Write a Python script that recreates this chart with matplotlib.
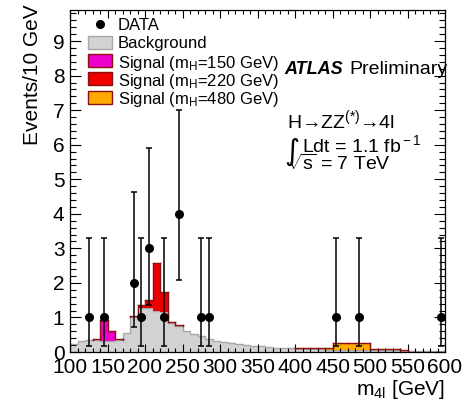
import numpy as np
import matplotlib.pyplot as plt
from matplotlib.patches import Rectangle
from matplotlib.ticker import MultipleLocator

plt.rcParams['font.family'] = ['Liberation Sans', 'DejaVu Sans']
plt.rcParams['mathtext.fontset'] = 'custom'
plt.rcParams['mathtext.rm'] = 'Liberation Sans'
plt.rcParams['mathtext.it'] = 'Liberation Sans:italic'

# 10 GeV bins from 100 to 600 GeV
edges = np.arange(100, 610, 10)

background = [0.22, 0.33, 0.35, 0.35, 0.33, 0.33, 0.35, 0.55, 1.00, 1.27,
              1.27, 1.20, 1.15, 0.85, 0.75, 0.62, 0.52, 0.45, 0.38, 0.33,
              0.29, 0.25, 0.22, 0.20, 0.18, 0.16, 0.15, 0.13, 0.12, 0.11,
              0.09, 0.09, 0.08, 0.08, 0.07, 0.07, 0.07, 0.06, 0.06, 0.06,
              0.05, 0.05, 0.05, 0.05, 0.04, 0.04, 0.04, 0.04, 0.03, 0.03]

sig150 = [0, 0, 0, 0.03, 0.60, 0.27, 0.02] + [0] * 43
sig220 = [0] * 8 + [0.03, 0.10, 0.23, 1.38, 0.59, 0.03, 0.02] + [0] * 35
sig480 = [0] * 30 + [0.04] * 5 + [0.20] * 5 + [0.03] * 5 + [0] * 5

# data points and Poisson error intervals
data_x = [125, 145, 185, 195, 205, 225, 245, 275, 285, 455, 485, 595]
data_y = [1, 1, 2, 1, 3, 1, 4, 1, 1, 1, 1, 1]
err_low = [0.17, 0.17, 0.71, 0.17, 1.37, 0.17, 2.08, 0.17, 0.17, 0.17, 0.17, 0.17]
err_high = [3.30, 3.30, 4.64, 3.30, 5.90, 3.30, 7.00, 3.30, 3.30, 3.30, 3.30, 3.30]

legend_labels = ['DATA', 'Background',
                 r'Signal (m$_{\rm H}$=150 GeV)',
                 r'Signal (m$_{\rm H}$=220 GeV)',
                 r'Signal (m$_{\rm H}$=480 GeV)']

bkg_fill = '#d2d2d2'
bkg_edge = '#a8a8a8'
sig_edge = '#8c1010'
sig_colors = ['#ee00cc', '#ee0000', '#ffaa00']

fig = plt.figure(figsize=(4.71, 4.0), dpi=100)
ax = fig.add_axes([70 / 471, 1 - 352 / 400, 375 / 471, 342 / 400])

bkg = np.array(background)
ax.stairs(bkg, edges, fill=True, color=bkg_fill, lw=0)
ax.stairs(bkg, edges, color=bkg_edge, lw=1)
for sig, col in zip([sig150, sig220, sig480], sig_colors):
    sig = np.array(sig, dtype=float)
    top = bkg + sig
    mask = sig > 0
    ax.stairs(np.where(mask, top, bkg), edges, baseline=bkg, fill=True,
              color=col, lw=0)
    # outline only where there is signal
    for i in np.nonzero(mask)[0]:
        ax.plot([edges[i], edges[i + 1]], [top[i], top[i]], color=sig_edge, lw=1)
        if i == 0 or not mask[i - 1]:
            ax.plot([edges[i], edges[i]], [bkg[i], top[i]], color=sig_edge, lw=1)
        else:
            ax.plot([edges[i], edges[i]], [top[i - 1], top[i]], color=sig_edge, lw=1)
        if i == len(mask) - 1 or not mask[i + 1]:
            ax.plot([edges[i + 1], edges[i + 1]], [top[i], bkg[i]], color=sig_edge, lw=1)

dy = np.array(data_y, dtype=float)
yerr = [dy - np.array(err_low), np.array(err_high) - dy]
ax.errorbar(data_x, dy, yerr=yerr, fmt='o', color='black', ms=5.5,
            elinewidth=1.1, capsize=2, capthick=1.1, zorder=5, clip_on=False)

ax.set_xlim(100, 600)
ax.set_ylim(0, 9.9)
ax.xaxis.set_major_locator(MultipleLocator(50))
ax.xaxis.set_minor_locator(MultipleLocator(10))
ax.yaxis.set_major_locator(MultipleLocator(1))
ax.yaxis.set_minor_locator(MultipleLocator(0.2))
ax.tick_params(which='both', direction='in', top=True, right=True, width=0.8)
ax.tick_params(axis='x', which='major', length=6, labelsize=15, pad=4)
ax.tick_params(axis='x', which='minor', length=3)
ax.tick_params(axis='y', which='major', length=8, labelsize=15, pad=4)
ax.tick_params(axis='y', which='minor', length=4)
for s in ax.spines.values():
    s.set_linewidth(0.9)

ax.set_xlabel(r'm$_{\rm 4l}$ [GeV]', fontsize=15, loc='right', labelpad=1)
ax.set_ylabel('Events/10 GeV', fontsize=15, loc='top')
ax.yaxis.set_label_coords(-0.075, 1.015)

# legend, drawn row by row in axes coordinates
row_h = 18.3 / 342
y0 = 1 - 14 / 342
bx, bw, bh = 18 / 375, 24 / 375, 13 / 342
for i, lab in enumerate(legend_labels):
    yc = y0 - i * row_h
    if i == 0:
        ax.plot([bx + bw / 2], [yc], 'o', color='black', ms=5.5,
                transform=ax.transAxes)
    else:
        fc = bkg_fill if i == 1 else sig_colors[i - 2]
        ec = bkg_edge if i == 1 else sig_edge
        ax.add_patch(Rectangle((bx, yc - bh / 2), bw, bh, transform=ax.transAxes,
                               facecolor=fc, edgecolor=ec, lw=1))
    ax.text(bx + bw + 6 / 375, yc, lab, transform=ax.transAxes, fontsize=12,
            va='center_baseline')

ax.text(0.571, 0.813, 'ATLAS', transform=ax.transAxes, fontsize=13,
        fontweight='bold', fontstyle='italic', va='baseline')
ax.text(0.744, 0.813, 'Preliminary', transform=ax.transAxes, fontsize=14,
        va='baseline')
ax.text(0.579, 0.655, r'H→ZZ$^{(*)}$→4l', transform=ax.transAxes,
        fontsize=14, va='baseline')
ax.text(0.572, 0.562, '∫', transform=ax.transAxes, fontsize=21,
        va='baseline', family=['DejaVu Sans'])
ax.text(0.619, 0.585, r'Ldt = 1.1 fb$^{\rm -1}$', transform=ax.transAxes,
        fontsize=14, va='baseline')
ax.text(0.579, 0.532, r'$\sqrt{\rm s}$ = 7 TeV', transform=ax.transAxes,
        fontsize=14, va='baseline')

fig.savefig('out.png', dpi=100)
